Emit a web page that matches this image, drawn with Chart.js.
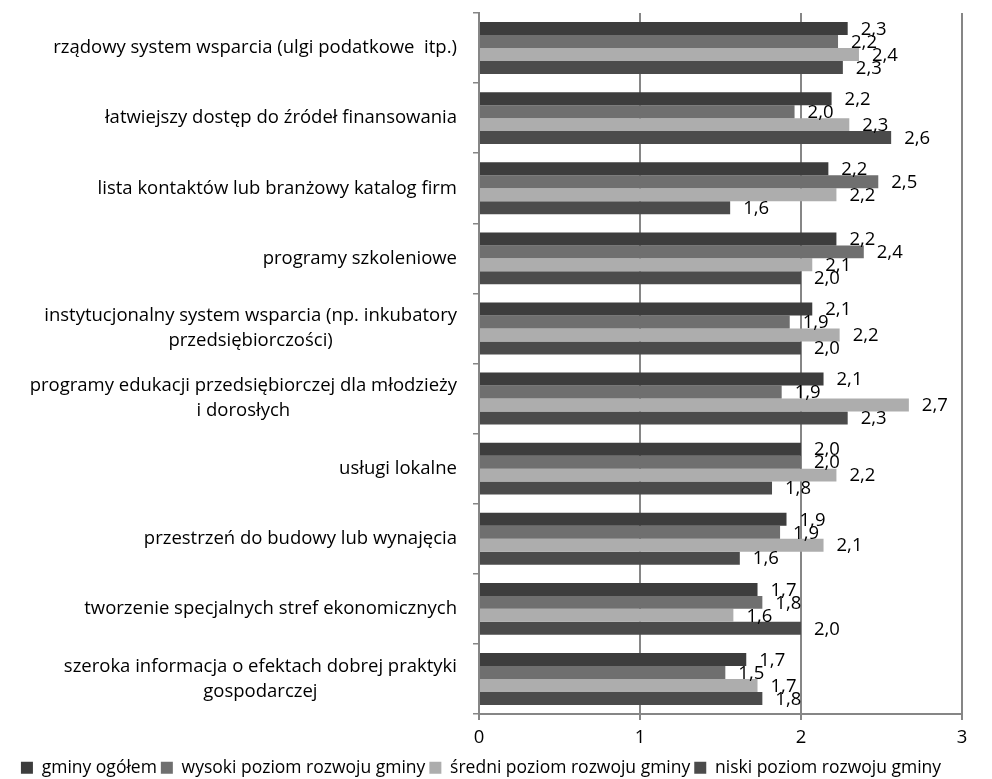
<!DOCTYPE html>
<html>
<head>
<meta charset="utf-8">
<script src="https://cdn.jsdelivr.net/npm/chart.js@4.4.0/dist/chart.umd.min.js"></script>
<style>
  html, body { margin: 0; padding: 0; background: #fff; }
  #wrap { width: 992px; height: 779px; position: relative; }
</style>
</head>
<body>
<div id="wrap"><canvas id="chart1"></canvas></div>
<script>
// categories (multi-line ones as arrays)
var categories = [
  'rządowy system wsparcia (ulgi podatkowe  itp.)',
  'łatwiejszy dostęp do źródeł finansowania',
  'lista kontaktów lub branżowy katalog firm',
  'programy szkoleniowe',
  ['instytucjonalny system wsparcia (np. inkubatory', 'przedsiębiorczości)'],
  ['programy edukacji przedsiębiorczej dla młodzieży', 'i dorosłych'],
  'usługi lokalne',
  'przestrzeń do budowy lub wynajęcia',
  'tworzenie specjalnych stref ekonomicznych',
  ['szeroka informacja o efektach dobrej praktyki', 'gospodarczej']
];

var seriesNames = ['gminy ogółem', 'wysoki poziom rozwoju gminy', 'średni poziom rozwoju gminy', 'niski poziom rozwoju gminy'];

var gminyOgolem  = [2.29, 2.19, 2.17, 2.22, 2.07, 2.14, 2.00, 1.91, 1.73, 1.66];
var wysokiPoziom = [2.23, 1.96, 2.48, 2.39, 1.93, 1.88, 2.00, 1.87, 1.76, 1.53];
var sredniPoziom = [2.36, 2.30, 2.22, 2.07, 2.24, 2.67, 2.22, 2.14, 1.58, 1.73];
var niskiPoziom  = [2.26, 2.56, 1.56, 2.00, 2.00, 2.29, 1.82, 1.62, 2.00, 1.76];

var xTicks = [0, 1, 2, 3];

var seriesColors = ['#3d3d3d', '#6f6f6f', '#adadad', '#4b4b4b'];
var fontFamily = '"Open Sans", sans-serif';
var fontSize = 18.5;

// y labels: block right-aligned to the axis, lines centred inside the block
var categoryLabels = {
  id: 'categoryLabels',
  afterDraw: function(chart) {
    var scale = chart.scales.y;
    var ctx = chart.ctx;
    ctx.save();
    ctx.font = fontSize + 'px ' + fontFamily;
    ctx.fillStyle = '#000';
    ctx.textAlign = 'center';
    ctx.textBaseline = 'middle';
    categories.forEach(function(lab, i) {
      var lines = Array.isArray(lab) ? lab : [lab];
      var w = Math.max.apply(null, lines.map(function(l) { return ctx.measureText(l).width; }));
      var cx = scale.right - 22 - w / 2;
      var cy = scale.getPixelForTick(i);
      lines.forEach(function(line, j) {
        ctx.fillText(line, cx, cy + (j - (lines.length - 1) / 2) * 25);
      });
    });
    ctx.restore();
  }
};

// value labels at the end of each bar
var valueLabels = {
  id: 'valueLabels',
  afterDatasetsDraw: function(chart) {
    var ctx = chart.ctx;
    ctx.save();
    ctx.font = fontSize + 'px ' + fontFamily;
    ctx.fillStyle = '#000';
    ctx.textAlign = 'left';
    ctx.textBaseline = 'middle';
    chart.data.datasets.forEach(function(ds, di) {
      chart.getDatasetMeta(di).data.forEach(function(el, i) {
        var txt = ds.data[i].toFixed(1).replace('.', ',');
        ctx.fillText(txt, el.x + 13, el.y + 1);
      });
    });
    ctx.restore();
  }
};

var ctx = document.getElementById('chart1').getContext('2d');

var myChart = new Chart(ctx, {
  type: 'bar',
  data: {
    labels: categories,
    datasets: [
      { label: seriesNames[0], data: gminyOgolem,  backgroundColor: seriesColors[0] },
      { label: seriesNames[1], data: wysokiPoziom, backgroundColor: seriesColors[1] },
      { label: seriesNames[2], data: sredniPoziom, backgroundColor: seriesColors[2] },
      { label: seriesNames[3], data: niskiPoziom,  backgroundColor: seriesColors[3] }
    ]
  },
  plugins: [categoryLabels, valueLabels],
  options: {
    indexAxis: 'y',
    responsive: true,
    maintainAspectRatio: false,
    animation: false,
    barPercentage: 1.0,
    categoryPercentage: 0.74,
    layout: { padding: { top: 13, right: 30, left: 0, bottom: 0 } },
    plugins: {
      legend: {
        position: 'bottom',
        maxHeight: 24,
        labels: {
          color: '#000',
          boxWidth: 12,
          boxHeight: 12,
          padding: 4,
          font: { family: fontFamily, size: 17.5 }
        }
      },
      tooltip: { enabled: false }
    },
    scales: {
      x: {
        min: xTicks[0],
        max: xTicks[xTicks.length - 1],
        afterBuildTicks: function(scale) {
          scale.ticks = xTicks.map(function(v) { return { value: v }; });
        },
        afterFit: function(scale) { scale.height = 41; },
        ticks: {
          color: '#000',
          padding: 7,
          font: { family: fontFamily, size: fontSize }
        },
        grid: {
          color: '#868686',
          lineWidth: 2,
          tickLength: 6
        },
        border: { color: '#868686', width: 2 }
      },
      y: {
        afterFit: function(scale) { scale.width = 479; },
        ticks: {
          color: 'rgba(0,0,0,0)',
          font: { family: fontFamily, size: 1 }
        },
        grid: {
          drawOnChartArea: false,
          color: '#868686',
          lineWidth: 1.5,
          tickLength: 6
        },
        border: { color: '#868686', width: 2 }
      }
    }
  }
});
</script>
</body>
</html>
